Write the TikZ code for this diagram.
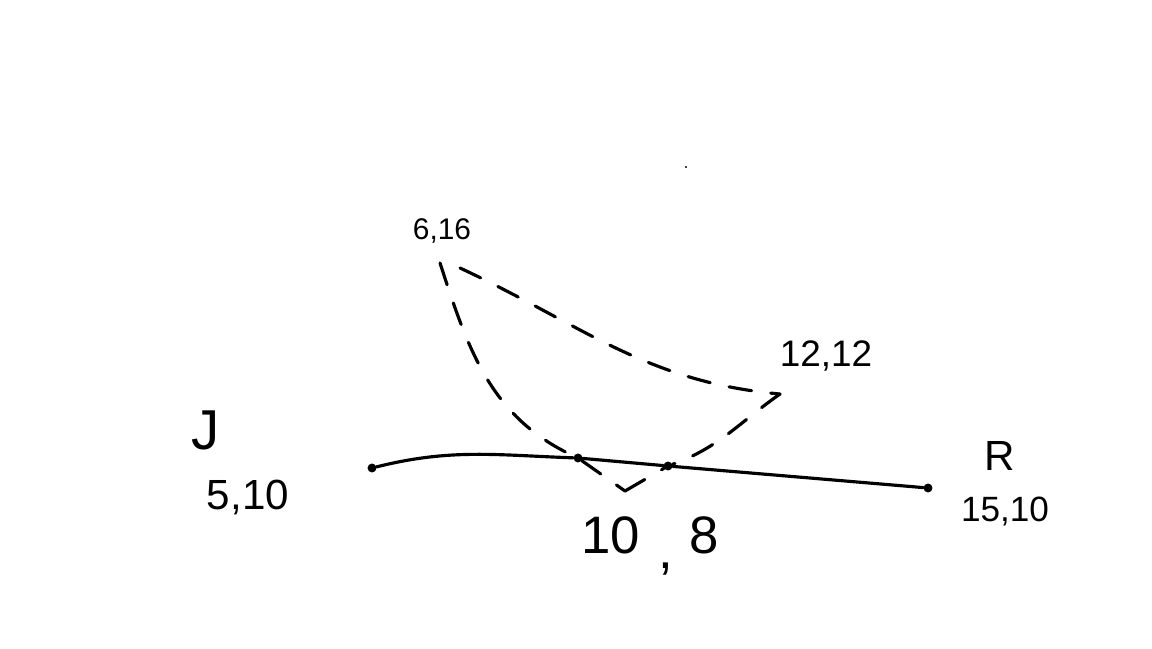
\documentclass[tikz,border=0pt]{standalone}
\usepackage{fontspec}
\setmainfont{Liberation Sans}
\usetikzlibrary{positioning,calc,arrows.meta}

\tikzset{
  sketch/.style={line width=1.8pt, line cap=round},
  dashsketch/.style={sketch, dash pattern=on 13pt off 11pt},
  pt/.style={circle, fill, inner sep=1.8pt},
  lbl/.style={inner sep=0pt}
}

\begin{document}
\begin{tikzpicture}
  \useasboundingbox (0,0) rectangle (23.04,12.96);

  % Points on the line J -- R
  \node[pt] (j) at (7.44, 3.60) {};
  \node[pt] (m1) at (11.56, 3.80) {};
  \node[pt] (m2) at (13.36, 3.64) {};
  \node[pt] (r) at (18.56, 3.20) {};

  % Points off the line
  \coordinate (p) at (8.80, 7.70);
  \coordinate (q) at (15.60, 5.08);
  \coordinate (l) at (12.50, 3.14);

  % Labels
  \node[lbl] (jname) at (4.12, 4.36) {\fontsize{32}{34}\selectfont J};
  \node[lbl] (jxy) at (4.96, 3.02) {\fontsize{24}{26}\selectfont 5,10};
  \node[lbl] (rname) at (20.00, 3.84) {\fontsize{24}{26}\selectfont R};
  \node[lbl] (rxy) at (20.10, 2.74) {\fontsize{20}{22}\selectfont 15,10};
  \node[lbl] (pxy) at (8.84, 8.34) {\fontsize{17}{19}\selectfont 6,16};
  \node[lbl] (qxy) at (16.52, 5.84) {\fontsize{21}{23}\selectfont 12,12};
  \node[lbl] (lxy) at (13.00, 2.04)
    {\fontsize{30}{32}\selectfont 10\hspace{0.35em}\raisebox{-0.3em}{,}\hspace{0.3em}8};

  % The line
  \draw[sketch] (j) to[out=14,in=178] (m1) -- (m2) -- (r);

  % Dashed paths
  \draw[dashsketch] (p) to[out=-72,in=155] (m1);
  \draw[dashsketch] (m1) -- (l);
  \draw[dashsketch] (l) -- (m2);
  \draw[dashsketch] ($(p)+(0.4,-0.1)$) to[out=-25,in=175] (q);
  \draw[dashsketch] (q) to[out=-145,in=20] (m2);

  % stray dot
  \fill (13.72, 9.62) circle (0.6pt);
\end{tikzpicture}
\end{document}
